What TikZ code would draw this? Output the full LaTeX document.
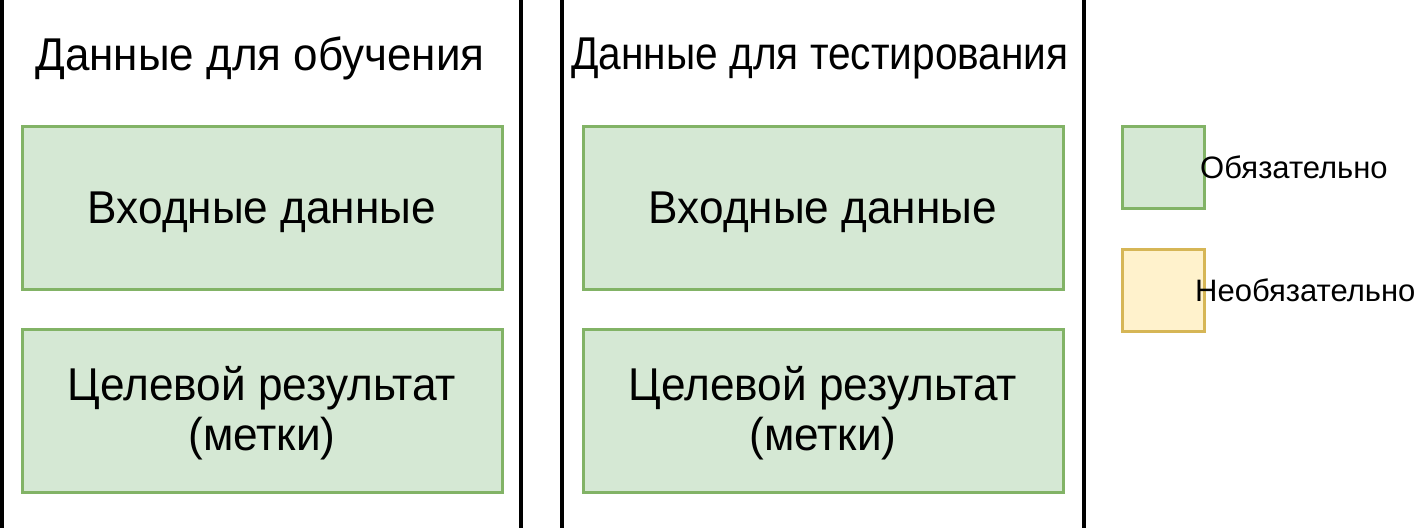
\documentclass[tikz,border=0pt]{standalone}
\usepackage{fontspec}
\usepackage{graphicx}
\setmainfont{Liberation Sans}
\definecolor{gfill}{HTML}{D5E8D4}
\definecolor{gdraw}{HTML}{82B366}
\definecolor{yfill}{HTML}{FFF2CC}
\definecolor{ydraw}{HTML}{D6B656}
\begin{document}
\begin{tikzpicture}[x=1pt,y=-1pt,
  vline/.style={draw=black,line width=3.5pt},
  gbox/.style={draw=gdraw,fill=gfill,line width=3pt,minimum width=480pt,minimum height=163pt,inner sep=0pt},
  boxtext/.style={inner sep=0pt,align=center,font=\fontsize{46}{53}\selectfont},
  titletext/.style={inner sep=0pt,font=\fontsize{46}{52}\selectfont},
  gsq/.style={draw=gdraw,fill=gfill,line width=3pt,minimum width=82pt,minimum height=82pt,inner sep=0pt},
  ysq/.style={draw=ydraw,fill=yfill,line width=3pt,minimum width=82pt,minimum height=82pt,inner sep=0pt},
  legtext/.style={inner sep=0pt,anchor=west,font=\fontsize{31}{37}\selectfont}]
\useasboundingbox (0,0) rectangle (1420,528);
\fill[white] (0,0) rectangle (1420,528);
% vertical separators
\draw[vline] (2,0) -- (2,528);
\draw[vline] (521,0) -- (521,528);
\draw[vline] (562,0) -- (562,528);
\draw[vline] (1084,0) -- (1084,528);
% titles
\node[titletext] (t1) at (260,58) {\scalebox{0.956}[1]{Данные для обучения}};
\node[titletext] (t2) at (820,58) {\scalebox{0.883}[1]{Данные для тестирования}};
% boxes
\node[gbox] (in1) at (262,208) {};
\node[gbox] (out1) at (262,411) {};
\node[gbox] (in2) at (823,208) {};
\node[gbox] (out2) at (823,411) {};
\node[boxtext] (in1t) at ([yshift=-4pt]in1.center) {\scalebox{0.96}[1]{Входные данные}};
\node[boxtext] (out1t) at ([yshift=-4pt]out1.center) {\scalebox{0.96}[1]{\begin{tabular}{@{}c@{}}Целевой результат\\[-3pt](метки)\end{tabular}}};
\node[boxtext] (in2t) at ([yshift=-4pt]in2.center) {\scalebox{0.96}[1]{Входные данные}};
\node[boxtext] (out2t) at ([yshift=-4pt]out2.center) {\scalebox{0.96}[1]{\begin{tabular}{@{}c@{}}Целевой результат\\[-3pt](метки)\end{tabular}}};
% legend
\node[gsq] (lg) at (1163,167) {};
\node[ysq] (ly) at (1163,290) {};
\node[legtext] (lgt) at (1200,167) {Обязательно};
\node[legtext] (lyt) at (1195,290) {Необязательно};
\end{tikzpicture}
\end{document}
